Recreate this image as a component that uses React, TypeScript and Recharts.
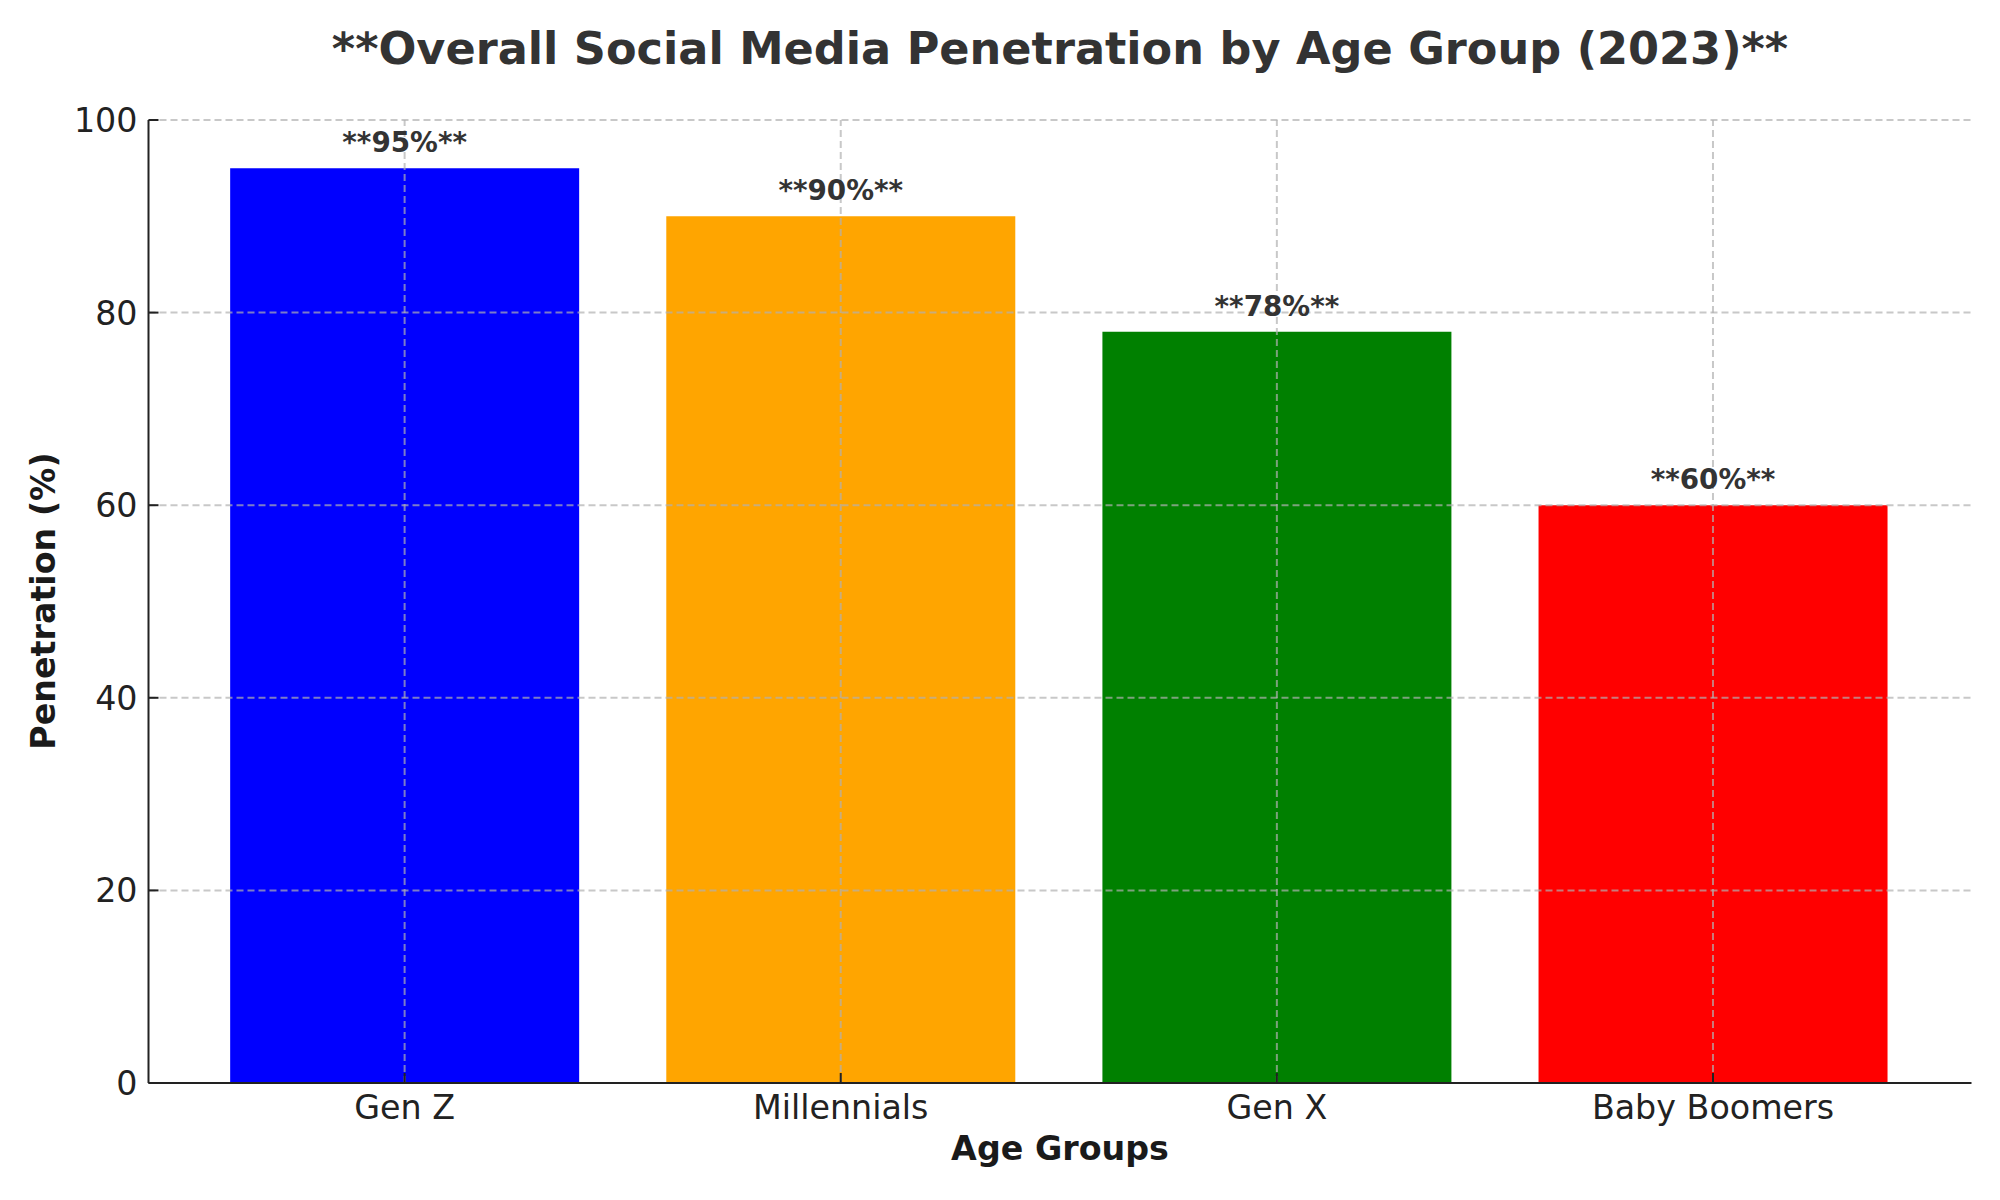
import React from 'react';
import { BarChart, Bar, XAxis, YAxis, Cell, LabelList, ReferenceLine } from 'recharts';

// Social media penetration (%) per generation, 2023
const categories = ['Gen Z', 'Millennials', 'Gen X', 'Baby Boomers'];
const penetration = [95, 90, 78, 60];
const barColors = ['#0000ff', '#ffa500', '#008000', '#ff0000'];
const yTicks = [0, 20, 40, 60, 80, 100];
const gridValues = [20, 40, 60, 80, 100];

const data = categories.map((group, i) => ({
  group,
  value: penetration[i],
  label: `**${penetration[i]}%**`,
}));

const FONT = '"DejaVu Sans", "Liberation Sans", sans-serif';
const GRID_STROKE = '#b0b0b0';
const AXIS_COLOR = '#222222';

const W = 2000;
const H = 1200;
const PLOT_LEFT = 148.5;
const PLOT_RIGHT = 1971.5;
const PLOT_TOP = 120;
const PLOT_BOTTOM = 1083;
const Y_AXIS_W = 100;
const X_AXIS_H = 60;
// x range spans 4 categories plus a small margin on each side
const UNIT = (PLOT_RIGHT - PLOT_LEFT) / 4.18;
const PAD_LEFT = UNIT * 0.09 - 1.2;
const PAD_RIGHT = UNIT * 0.09 + 1.2;

const XTick = (props: any) => {
  const { x, y, payload } = props;
  return (
    <g>
      <line x1={x} x2={x} y1={y} y2={y - 10} stroke={AXIS_COLOR} strokeWidth={2} />
      <text x={x} y={y + 36} textAnchor="middle" fontSize={33.3} fontFamily={FONT} fill={AXIS_COLOR}>
        {payload.value}
      </text>
    </g>
  );
};

const YTick = (props: any) => {
  const { x, y, payload } = props;
  return (
    <g>
      <line x1={x} x2={x + 10} y1={y} y2={y} stroke={AXIS_COLOR} strokeWidth={2} />
      <text x={x - 11} y={y + 12} textAnchor="end" fontSize={33.3} fontFamily={FONT} fill={AXIS_COLOR}>
        {payload.value}
      </text>
    </g>
  );
};

const ValueLabel = (props: any) => {
  const { x, y, width, value } = props;
  return (
    <text
      x={Number(x) + Number(width) / 2}
      y={Number(y) - 16}
      textAnchor="middle"
      fontSize={27.8}
      fontWeight="bold"
      fontFamily={FONT}
      fill="#333333"
    >
      {value}
    </text>
  );
};

export default function App() {
  return (
    <div style={{ position: 'absolute', left: 0, top: 0, width: W, height: H, background: '#ffffff' }}>
      <BarChart
        width={W}
        height={H}
        data={data}
        barCategoryGap="10%"
        margin={{
          top: PLOT_TOP,
          right: W - PLOT_RIGHT,
          bottom: H - PLOT_BOTTOM - X_AXIS_H,
          left: PLOT_LEFT - Y_AXIS_W,
        }}
      >
        <XAxis
          dataKey="group"
          height={X_AXIS_H}
          padding={{ left: PAD_LEFT, right: PAD_RIGHT }}
          axisLine={{ stroke: AXIS_COLOR, strokeWidth: 2 }}
          tickLine={false}
          tickSize={0}
          tickMargin={0}
          tick={<XTick />}
          interval={0}
        />
        <YAxis
          width={Y_AXIS_W}
          domain={[0, 100]}
          ticks={yTicks}
          axisLine={{ stroke: AXIS_COLOR, strokeWidth: 2 }}
          tickLine={false}
          tickSize={0}
          tickMargin={0}
          tick={<YTick />}
          interval={0}
        />
        <Bar dataKey="value" isAnimationActive={false}>
          {data.map((d, i) => (
            <Cell key={d.group} fill={barColors[i]} />
          ))}
          <LabelList dataKey="label" content={<ValueLabel />} />
        </Bar>
        {gridValues.map((v) => (
          <ReferenceLine
            key={`h${v}`}
            y={v}
            stroke={GRID_STROKE}
            strokeOpacity={0.7}
            strokeWidth={2}
            strokeDasharray="7 4"
          />
        ))}
        {categories.map((c) => (
          <ReferenceLine
            key={`v${c}`}
            x={c}
            stroke={GRID_STROKE}
            strokeOpacity={0.7}
            strokeWidth={2}
            strokeDasharray="7 4"
          />
        ))}
      </BarChart>
      <svg
        width={W}
        height={H}
        style={{ position: 'absolute', left: 0, top: 0, pointerEvents: 'none' }}
      >
        <text x={(PLOT_LEFT + PLOT_RIGHT) / 2} y={64} textAnchor="middle" fontSize={44.6} fontWeight="bold" fontFamily={FONT} fill="#333333">
          **Overall Social Media Penetration by Age Group (2023)**
        </text>
        <text x={(PLOT_LEFT + PLOT_RIGHT) / 2} y={1160} textAnchor="middle" fontSize={33.3} fontWeight="bold" fontFamily={FONT} fill="#1a1a1a">
          Age Groups
        </text>
        <text
          x={55}
          y={601}
          textAnchor="middle"
          fontSize={33.3}
          fontWeight="bold"
          fontFamily={FONT}
          fill="#1a1a1a"
          transform="rotate(-90, 55, 601)"
        >
          Penetration (%)
        </text>
      </svg>
    </div>
  );
}
